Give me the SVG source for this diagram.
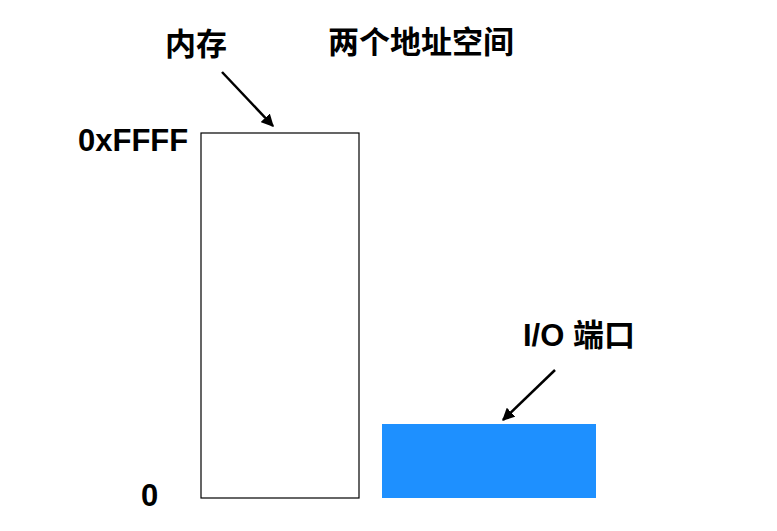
<svg xmlns="http://www.w3.org/2000/svg" width="777" height="531" viewBox="0 0 777 531">
<style>
text{font-family:"Liberation Sans","Noto Sans CJK SC",sans-serif;font-weight:bold;font-size:31px;fill:#000}
.c{stroke:#000;stroke-width:2.5;fill:none;marker-end:url(#a)}
</style>
<defs><marker id="a" viewBox="0 0 10 10" refX="9" refY="5" markerWidth="5" markerHeight="5" orient="auto"><path d="M0,0L10,5L0,10z" fill="#000"/></marker></defs>
<rect width="777" height="531" fill="#fff"/>
<text x="328" y="53">两个地址空间</text>
<g id="mem"><rect x="201" y="133" width="158" height="365" fill="#fff" stroke="#000" stroke-width="1.2"/>
<text x="165" y="55">内存</text>
<text x="78" y="151">0xFFFF</text>
<text x="141" y="506">0</text></g>
<g id="io"><rect x="382" y="424" width="214" height="74" fill="#1E90FF"/>
<text x="523" y="346">I/O 端口</text></g>
<g id="connectors"><path class="c" d="M222,72L273,126"/><path class="c" d="M555,370L503,420"/></g>
</svg>
